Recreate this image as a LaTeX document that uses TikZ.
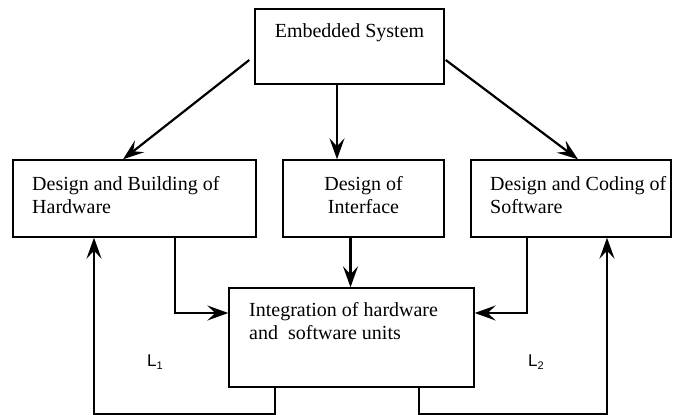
\documentclass[tikz,border=0pt]{standalone}
\usepackage{fontspec}
\setmainfont{Liberation Serif}
\setsansfont{Liberation Sans}
\usetikzlibrary{arrows.meta}
\begin{document}
\begin{tikzpicture}[x=1pt,y=-1pt,
  box/.style={draw,line width=1.4pt,inner sep=0pt,minimum width=#1},
  txt/.style={inner sep=0pt,align=left,font=\fontsize{20}{23}\selectfont},
  arr/.style={line width=2.2pt,-{Stealth[length=21pt,width=15pt,inset=8pt]}},
  lbl/.style={inner sep=0pt,font=\sffamily\fontsize{17}{17}\selectfont}]
\useasboundingbox (0,0) rectangle (675,415);

% boxes
\node[box=189pt,minimum height=75pt] (top) at (349.5,46.5) {};
\node[box=243pt,minimum height=77pt] (hw)  at (134.5,198.5) {};
\node[box=161pt,minimum height=77pt] (if)  at (363.5,198.5) {};
\node[box=200pt,minimum height=77pt] (sw)  at (571,198.5) {};
\node[box=245pt,minimum height=99pt] (int) at (351.5,337.5) {};

% box texts (base anchor sits on the last line)
\node[txt,anchor=base] (toptxt) at (349.5,37) {Embedded System};
\node[txt,anchor=base west] (hwtxt) at (32,213) {Design and Building of\\Hardware};
\node[txt,anchor=base,align=center] (iftxt) at (363.5,213) {Design of\\Interface};
\node[txt,anchor=base west] (swtxt) at (490,213) {Design and Coding of\\Software};
\node[txt,anchor=base west] (inttxt) at (249,339) {Integration of hardware\\and\ \ software units};

% loop labels
\node[lbl,anchor=base west] (l1) at (147,366) {L\raisebox{-3pt}{\fontsize{11}{11}\selectfont 1}};
\node[lbl,anchor=base west] (l2) at (528,366) {L\raisebox{-3pt}{\fontsize{11}{11}\selectfont 2}};

% from the system to the three design tasks
\draw[arr] ([xshift=-5pt,yshift=-13.5pt]top.west) -- ([xshift=-11.5pt]hw.north);
\draw[arr] ([xshift=-12.5pt]top.south) -- ([xshift=-26.5pt]if.north);
\draw[arr] ([xshift=1pt,yshift=-13.5pt]top.east) -- ([xshift=7pt]sw.north);

% into the integration step
\draw[arr] ([xshift=40.5pt]hw.south) |- ([yshift=24.5pt]int.west);
\draw[arr] ([xshift=-13pt]if.south) -- ([xshift=-1pt]int.north);
\draw[arr] ([xshift=-44pt]sw.south) |- ([yshift=24.5pt]int.east);

% feedback loops L1 and L2
\draw[arr] ([xshift=-76.5pt]int.south) -- ++(0,26) -| ([xshift=-40.5pt]hw.south);
\draw[arr] ([xshift=67.5pt]int.south) -- ++(0,26) -| ([xshift=36pt]sw.south);
\end{tikzpicture}
\end{document}
